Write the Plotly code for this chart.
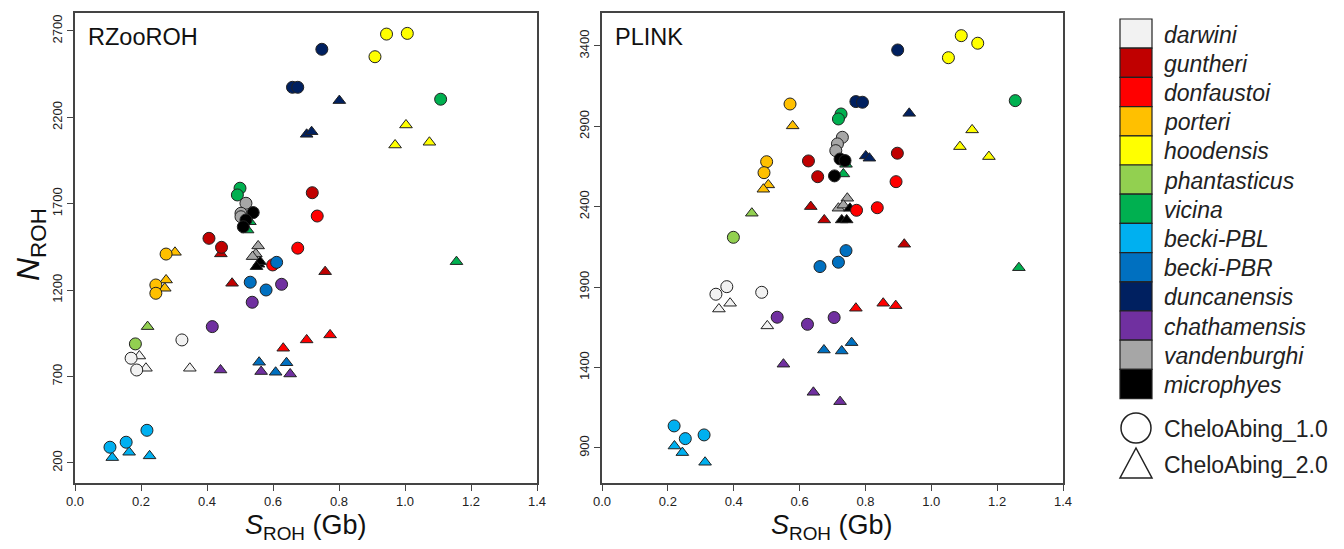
import plotly.graph_objects as go

species = ["darwini", "guntheri", "donfaustoi", "porteri", "hoodensis", "phantasticus",
           "vicina", "becki-PBL", "becki-PBR", "duncanensis", "chathamensis",
           "vandenburghi", "microphyes"]
colors = ["#F2F2F2", "#C00000", "#FF0000", "#FFC000", "#FFFF00", "#92D050",
          "#00B050", "#00B0F0", "#0070C0", "#002060", "#7030A0", "#A6A6A6", "#000000"]

# RZooROH, CheloAbing_1.0 (circles)
rz1_sp = ["darwini"]*3 + ["guntheri"]*3 + ["donfaustoi"]*3 + ["porteri"]*3 + ["hoodensis"]*3 + \
         ["phantasticus"] + ["vicina"]*3 + ["becki-PBL"]*3 + ["becki-PBR"]*3 + ["duncanensis"]*3 + \
         ["chathamensis"]*3 + ["vandenburghi"]*3 + ["microphyes"]*3
rz1_s = [0.170, 0.187, 0.324, 0.406, 0.444, 0.719, 0.599, 0.675, 0.734, 0.276, 0.245, 0.245,
         0.944, 1.007, 0.909, 0.183, 0.500, 0.492, 1.108, 0.106, 0.155, 0.218, 0.611, 0.531, 0.579,
         0.748, 0.659, 0.675, 0.626, 0.537, 0.416, 0.518, 0.503, 0.503, 0.540, 0.518, 0.510]
rz1_n = [806, 738, 912, 1500, 1448, 1764, 1346, 1443, 1629, 1409, 1230, 1182,
         2682, 2686, 2551, 889, 1790, 1751, 2305, 291, 320, 389, 1361, 1246, 1201,
         2594, 2374, 2374, 1234, 1130, 989, 1703, 1645, 1625, 1649, 1606, 1567]

# RZooROH, CheloAbing_2.0 (triangles)
rz2_sp = rz1_sp
rz2_s = [0.195, 0.215, 0.348, 0.442, 0.476, 0.758, 0.631, 0.702, 0.773, 0.303, 0.276, 0.272,
         1.003, 0.970, 1.074, 0.220, 0.530, 0.523, 1.156, 0.113, 0.164, 0.226, 0.558, 0.608, 0.641,
         0.801, 0.702, 0.717, 0.441, 0.564, 0.652, 0.548, 0.555, 0.538, 0.556, 0.561, 0.550]
rz2_n = [819, 748, 748, 1410, 1240, 1307, 864, 912, 941, 1419, 1259, 1211,
         2156, 2040, 2056, 989, 1596, 1548, 1365, 231, 262, 241, 783, 725, 780,
         2297, 2102, 2117, 738, 729, 715, 1410, 1456, 1394, 1350, 1365, 1336]

# PLINK, CheloAbing_1.0 (circles)
pl1_sp = rz1_sp
pl1_s = [0.379, 0.346, 0.485, 0.627, 0.655, 0.897, 0.893, 0.773, 0.836, 0.571, 0.500, 0.492,
         1.091, 1.141, 1.052, 0.399, 0.726, 0.718, 1.255, 0.219, 0.253, 0.310, 0.662, 0.718, 0.741,
         0.771, 0.791, 0.898, 0.532, 0.624, 0.705, 0.730, 0.715, 0.710, 0.723, 0.738, 0.706]
pl1_n = [1903, 1856, 1868, 2685, 2587, 2733, 2556, 2378, 2394, 3039, 2680, 2612,
         3464, 3417, 3327, 2210, 2977, 2946, 3060, 1037, 958, 981, 2028, 2055, 2127,
         3054, 3050, 3375, 1713, 1669, 1711, 2832, 2791, 2749, 2697, 2687, 2592]

# PLINK, CheloAbing_2.0 (triangles)
pl2_sp = rz1_sp
pl2_s = [0.389, 0.355, 0.502, 0.634, 0.675, 0.918, 0.771, 0.854, 0.892, 0.579, 0.505, 0.490,
         1.124, 1.087, 1.175, 0.455, 0.741, 0.733, 1.266, 0.220, 0.244, 0.313, 0.674, 0.728, 0.758,
         0.801, 0.812, 0.933, 0.551, 0.642, 0.723, 0.745, 0.718, 0.733, 0.753, 0.728, 0.743]
pl2_n = [1800, 1764, 1659, 2401, 2318, 2167, 1769, 1800, 1785, 2903, 2536, 2509,
         2878, 2774, 2712, 2360, 2664, 2604, 2021, 912, 871, 811, 1509, 1503, 1555,
         2716, 2702, 2981, 1421, 1246, 1188, 2453, 2391, 2410, 2390, 2318, 2318]

x_ticks = [0.0, 0.2, 0.4, 0.6, 0.8, 1.0, 1.2, 1.4]
rz_yticks = [200, 700, 1200, 1700, 2200, 2700]
pl_yticks = [900, 1400, 1900, 2400, 2900, 3400]

OFF = 8  # default page body margin
W, H = 1344 - OFF, 549 - OFF
FONT = "Arial, Liberation Sans, sans-serif"
cmap = dict(zip(species, colors))

fig = go.Figure()

def add_group(sp_list, s_list, n_list, symbol, size, xa, ya):
    for sp in species:
        xs = [s for q, s in zip(sp_list, s_list) if q == sp]
        ys = [n for q, n in zip(sp_list, n_list) if q == sp]
        fig.add_trace(go.Scatter(
            x=xs, y=ys, mode="markers", xaxis=xa, yaxis=ya, showlegend=False,
            name=sp, marker=dict(symbol=symbol, size=size, color=cmap[sp],
                                 line=dict(color="#222222", width=1))))

add_group(rz2_sp, rz2_s, rz2_n, "triangle-up", 11, "x", "y")
add_group(rz1_sp, rz1_s, rz1_n, "circle", 12, "x", "y")
add_group(pl2_sp, pl2_s, pl2_n, "triangle-up", 11, "x2", "y2")
add_group(pl1_sp, pl1_s, pl1_n, "circle", 12, "x2", "y2")

def px(x):
    return (x - OFF) / W

def py(y):
    return 1 - (y - OFF) / H

ydom = [py(483), py(13)]
axcommon = dict(showgrid=False, zeroline=False, showline=True, mirror=True, automargin=False,
                linecolor="#444444", linewidth=1.5, ticks="outside", ticklen=6,
                tickcolor="#444444", tickfont=dict(family=FONT, size=13, color="#222222"))

fig.update_layout(
    width=W, height=H, margin=dict(l=0, r=0, t=0, b=0),
    paper_bgcolor="white", plot_bgcolor="white",
    xaxis=dict(domain=[px(75), px(537)], range=[0, 1.4], tickvals=x_ticks,
               ticktext=[f"{v:.1f}" for v in x_ticks], anchor="y", **axcommon),
    yaxis=dict(domain=ydom, range=[84, 2804], tickvals=rz_yticks, tickangle=-90,
               anchor="x", **axcommon),
    xaxis2=dict(domain=[px(602), px(1063)], range=[0, 1.4], tickvals=x_ticks,
                ticktext=[f"{v:.1f}" for v in x_ticks], anchor="y2", **axcommon),
    yaxis2=dict(domain=ydom, range=[682, 3605], tickvals=pl_yticks, tickangle=-90,
                anchor="x2", **axcommon),
)

ann = []
ann.append(dict(x=px(86), y=py(37), xref="paper", yref="paper", text="RZooROH",
                showarrow=False, xanchor="left", yanchor="middle",
                font=dict(family=FONT, size=23.5, color="#111111")))
ann.append(dict(x=px(613), y=py(37), xref="paper", yref="paper", text="PLINK",
                showarrow=False, xanchor="left", yanchor="middle",
                font=dict(family=FONT, size=23.5, color="#111111")))
for cx in (306, 832):
    ann.append(dict(x=px(cx), y=py(527), xref="paper", yref="paper",
                    text="<i>S</i><sub>ROH</sub> (Gb)", showarrow=False,
                    xanchor="center", yanchor="middle",
                    font=dict(family=FONT, size=27, color="#111111")))
ann.append(dict(x=px(30), y=py(245), xref="paper", yref="paper",
                text="<i>N</i><sub>ROH</sub>", showarrow=False, textangle=-90,
                xanchor="center", yanchor="middle",
                font=dict(family=FONT, size=32, color="#111111")))

shapes = []
top, step = 19, 29.2
for i, (sp, c) in enumerate(zip(species, colors)):
    y0 = top + i * step
    shapes.append(dict(type="rect", xref="paper", yref="paper",
                       x0=px(1120), x1=px(1152), y0=py(y0), y1=py(y0 + step),
                       fillcolor=c, line=dict(color="#222222", width=1.2)))
    ann.append(dict(x=px(1162), y=py(y0 + step / 2 + 1), xref="paper", yref="paper",
                    text=f"<i>{sp}</i>", showarrow=False, xanchor="left", yanchor="middle",
                    font=dict(family=FONT, size=23, color="#222222")))

shapes.append(dict(type="circle", xref="paper", yref="paper",
                   x0=px(1121), x1=px(1151), y0=py(413), y1=py(443),
                   fillcolor="white", line=dict(color="#222222", width=1.5)))
shapes.append(dict(type="path", xref="paper", yref="paper",
                   path=f"M {px(1120)} {py(478)} L {px(1152)} {py(478)} L {px(1136)} {py(448)} Z",
                   fillcolor="white", line=dict(color="#222222", width=1.5)))
ann.append(dict(x=px(1162), y=py(429), xref="paper", yref="paper", text="CheloAbing_1.0",
                showarrow=False, xanchor="left", yanchor="middle",
                font=dict(family=FONT, size=23, color="#222222")))
ann.append(dict(x=px(1162), y=py(465), xref="paper", yref="paper", text="CheloAbing_2.0",
                showarrow=False, xanchor="left", yanchor="middle",
                font=dict(family=FONT, size=23, color="#222222")))

fig.update_layout(annotations=ann, shapes=shapes)
fig.write_html("out.html")
